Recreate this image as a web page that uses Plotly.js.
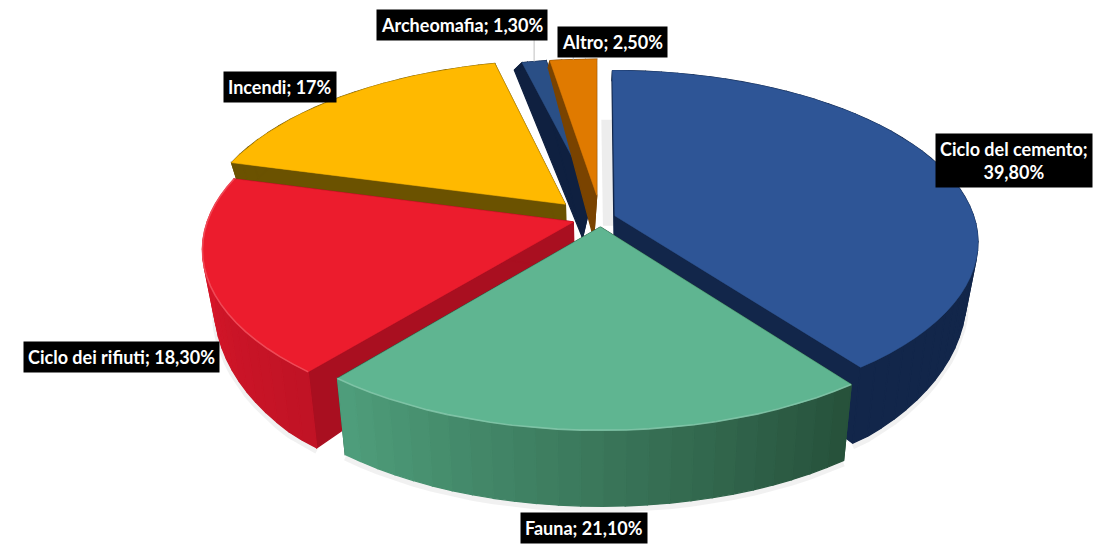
<!DOCTYPE html>
<html><head><meta charset="utf-8">
<script src="https://cdn.plot.ly/plotly-3.0.1.min.js"></script>
<style>html,body{margin:0;padding:0;background:#fff}#c{width:1102px;height:549px}</style>
</head><body><div id="c"></div>
<script>
// Data
const categories = ["Ciclo del cemento","Fauna","Ciclo dei rifiuti","Incendi","Archeomafia","Altro"];
const values = [39.8,21.1,18.3,17,1.3,2.5];
const valueLabels = ["39,80%","21,10%","18,30%","17%","1,30%","2,50%"];

// Styles
const topColors = ["#2E5596","#5FB591","#EC1C2D","#FFB900","#2A4F86","#E07A00"];
const rimStart  = ["#12264A","#4F9F7C","#E3182B","#6B5200","#0F2040","#7A4300"];
const rimEnd    = ["#12264A","#26503A","#C01325","#6B5200","#0F2040","#7A4300"];
const wallColors= ["#12264A","#26503A","#A90F20","#6B5200","#0F2040","#7A4300"];
const explodeX  = [0.052,0.012,-0.062,-0.085,-0.01,0.002];
const explodeY  = [-0.016,0.05,0.02,-0.085,-0.14,-0.14];
const radiusScale = [0.985,1,1,1,0.95,0.95];
const wallShift = [0,0,0,0,-10,-3];
const drawOrder = [4,5,3,0,2,1];
const labelX = [1014,584,121,279.5,462,612];
const labelY = [160,528,357,87,24.5,42];

// Projection of the disc
const Cx=596, Cy=218.5, R=365, B=170, K=0.15;
function topPt(X,Y){const w=1-K*Y;return [Cx+R*X/w,Cy+B*Y/w];}
function botPt(X,Y,s){const p=topPt(X,Y);const d=Math.min(76,Math.max(2,48+38*Y));return [p[0]+(Cx-p[0])*0.03+s,p[1]+d];}

const total = values.reduce((a,b)=>a+b,0);
const starts=[];let acc=0;values.forEach(v=>{starts.push(acc/total*2*Math.PI);acc+=v;});

const traces=[];
function poly(pts,color,w){
  traces.push({type:'scatter',mode:'lines',x:pts.map(p=>p[0]).concat(pts[0][0]),y:pts.map(p=>p[1]).concat(pts[0][1]),
    fill:'toself',fillcolor:color,line:{color:color,width:w===undefined?1.3:w},hoverinfo:'skip',showlegend:false});
}
function line(pts,color,width,op){
  traces.push({type:'scatter',mode:'lines',x:pts.map(p=>p[0]),y:pts.map(p=>p[1]),
    line:{color:color,width:width},opacity:op,hoverinfo:'skip',showlegend:false});
}
function hex(c){return [1,3,5].map(i=>parseInt(c.substr(i,2),16));}
function mix(a,b,t){const A=hex(a),B2=hex(b);return 'rgb('+A.map((v,i)=>Math.round(v+(B2[i]-v)*t)).join(',')+')';}

const outerPts={};
drawOrder.forEach(i=>{
  const a0=starts[i],a1=a0+values[i]/total*2*Math.PI,ox=explodeX[i],oy=explodeY[i],s=wallShift[i],r=radiusScale[i];
  const n=Math.max(4,Math.round(values[i]*1.2));
  const M=[];for(let k=0;k<=n;k++){const a=a0+(a1-a0)*k/n;M.push([ox+r*Math.sin(a),oy-r*Math.cos(a)]);}
  const tA=topPt(ox,oy),bA=botPt(ox,oy,s);
  const T=M.map(m=>topPt(m[0],m[1])),Bt=M.map(m=>botPt(m[0],m[1],s));
  // faint shadow the first slice casts into the gap on its left
  if(i===0){
    const u=topPt(ox,oy-0.62);
    poly([[tA[0]-12,tA[1]+10],[u[0]-12,u[1]],[u[0],u[1]],[tA[0],tA[1]+10]],'#EDEDED',0);
  }
  // soft ground shadow under the front rim
  if(i<=2){line(Bt.map(p=>[p[0],p[1]+3]),'#888888',6,0.12);}
  poly([tA,T[0],Bt[0],bA],wallColors[i]);
  poly([tA,T[n],Bt[n],bA],wallColors[i]);
  // rim, shaded along the arc; index runs clockwise so Fauna runs right to left
  for(let k=0;k<n;k++){
    const t=(k+0.5)/n;
    const col=(i===1||i===2)?mix(rimEnd[i],rimStart[i],t):mix(rimStart[i],rimEnd[i],t);
    poly([T[k],T[k+1],Bt[k+1],Bt[k]],col);
  }
  poly([tA].concat(T),topColors[i],0.6);
  if(i===1||i===2){line(T,mix(topColors[i],'#FFFFFF',0.25),1.6,0.8);}
  const mid=(a0+a1)/2;outerPts[i]=topPt(ox+r*Math.sin(mid),oy-r*Math.cos(mid));
});

// leader lines of the two small slices
[4,5].forEach(i=>{
  const p=outerPts[i];
  line([[p[0],p[1]],[p[0],labelY[i]+14]],'#BFBFBF',1,1);
});

const annotations=categories.map((c,i)=>({
  xref:'x',yref:'y',x:labelX[i],y:labelY[i],xanchor:'center',yanchor:'middle',showarrow:false,
  text:i===0?'<b>'+c+';<br>'+valueLabels[i]+'</b>':'<b>'+c+'; '+valueLabels[i]+'</b>',
  font:{family:'Lato, "Open Sans", sans-serif',size:18,color:'#FFFFFF'},
  bgcolor:'#000000',borderpad:4,align:'center'
}));

Plotly.newPlot('c',traces,{
  width:1102,height:549,margin:{l:0,r:0,t:0,b:0},
  paper_bgcolor:'#FFFFFF',plot_bgcolor:'#FFFFFF',showlegend:false,
  xaxis:{range:[0,1102],visible:false,fixedrange:true},
  yaxis:{range:[549,0],visible:false,fixedrange:true},
  annotations:annotations
},{displayModeBar:false,staticPlot:true});
</script></body></html>
